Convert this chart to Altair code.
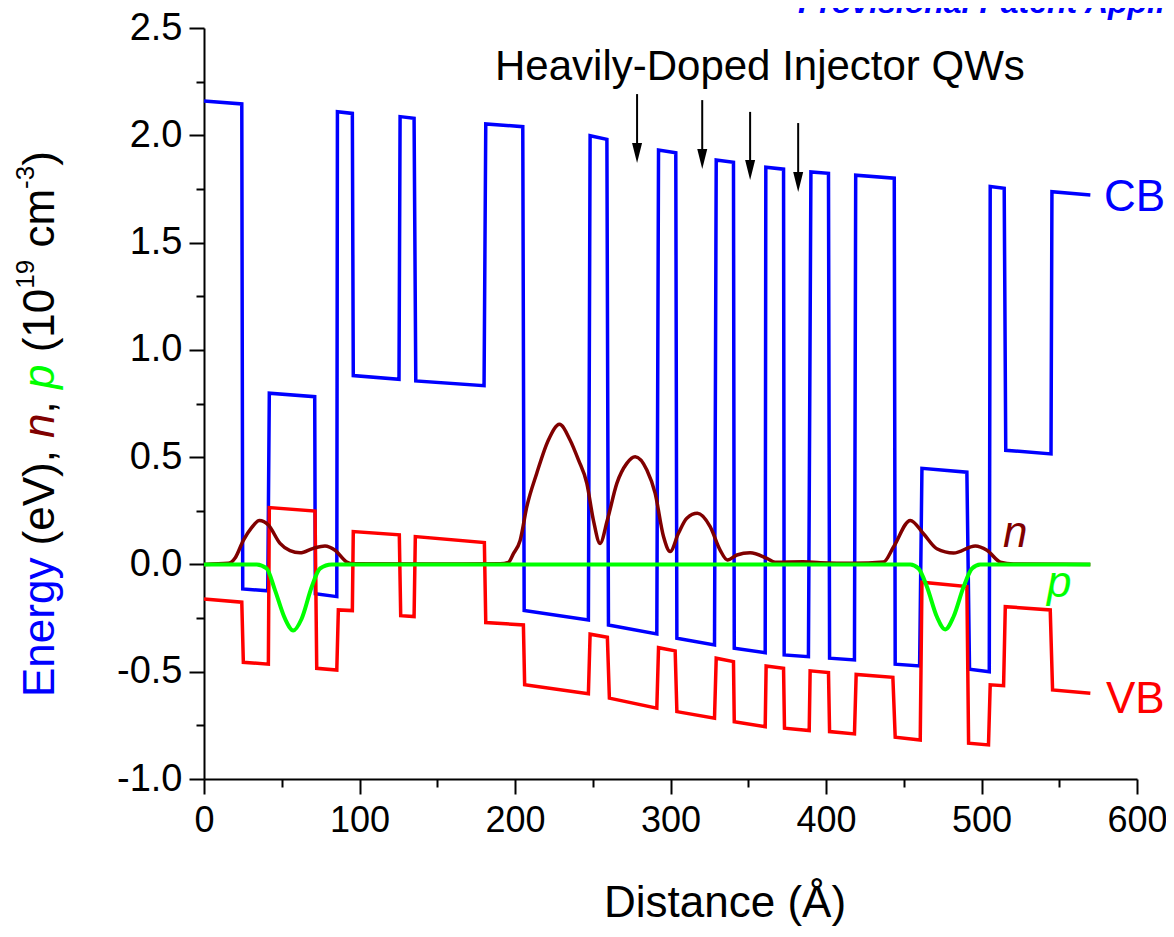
import altair as alt
import pandas as pd

FONT = "Liberation Sans, Arial, Helvetica, sans-serif"

# ---------------- data ----------------
cb_x = [0, 24.3, 24.9, 41.0, 42.0, 71.2, 71.6, 85.4, 85.8, 95.4, 96.0, 125.4, 126.1, 135.1, 136.2,
        180.1, 181.2, 205.0, 205.9, 247.2, 248.3, 259.1, 260.1, 291.2, 292.3, 303.4, 304.1, 328.3,
        329.4, 340.5, 341.0, 360.9, 361.3, 372.7, 373.1, 388.7, 390.3, 401.6, 402.3, 418.3, 419.1,
        443.9, 444.5, 460.2, 461.7, 490.6, 492.3, 505.0, 505.6, 514.6, 515.6, 544.7, 545.3, 570.0]
cb_y = [2.16, 2.146, -0.114, -0.123, 0.798, 0.782, -0.137, -0.150, 2.110, 2.102, 0.880, 0.863,
        2.087, 2.079, 0.855, 0.833, 2.053, 2.040, -0.215, -0.259, 1.998, 1.981, -0.282, -0.324,
        1.931, 1.919, -0.344, -0.375, 1.885, 1.874, -0.390, -0.411, 1.851, 1.842, -0.422, -0.430,
        1.829, 1.823, -0.437, -0.445, 1.814, 1.800, -0.465, -0.473, 0.448, 0.430, -0.488, -0.500,
        1.761, 1.753, 0.532, 0.515, 1.737, 1.722]

vb_x = [0, 24.3, 25.3, 41.4, 42.0, 71.4, 72.5, 85.4, 86.4, 95.4, 96.0, 125.6, 126.5, 135.1, 135.9,
        180.3, 181.2, 205.4, 206.2, 247.2, 248.3, 259.4, 260.7, 291.2, 292.3, 303.0, 304.1, 328.3,
        329.4, 340.5, 341.0, 360.9, 361.5, 372.7, 373.3, 389.2, 389.8, 401.6, 402.3, 418.3, 419.4,
        443.0, 444.5, 460.6, 461.7, 490.6, 491.7, 504.5, 505.6, 514.2, 515.3, 544.2, 545.7, 570.0]
vb_y = [-0.161, -0.176, -0.456, -0.465, 0.265, 0.249, -0.484, -0.492, -0.212, -0.215, 0.153, 0.138,
        -0.239, -0.243, 0.130, 0.102, -0.271, -0.282, -0.561, -0.603, -0.325, -0.339, -0.623, -0.670,
        -0.388, -0.403, -0.686, -0.717, -0.437, -0.453, -0.733, -0.756, -0.473, -0.484, -0.763, -0.774,
        -0.496, -0.504, -0.779, -0.790, -0.513, -0.526, -0.805, -0.818, -0.083, -0.103, -0.833, -0.841,
        -0.561, -0.565, -0.197, -0.212, -0.585, -0.600]

n_x = [0, 15.6, 20, 25.3, 30.5, 35.6, 41.4, 48.9, 55.3, 61.8, 70.3, 77.8, 84.3, 91.8, 96.0, 150,
       190.4, 195.8, 199.0, 203.3, 207.6, 214.0, 221.5, 228.6, 235.4, 240.8, 246.2, 250.4, 254.7,
       259.4, 265.5, 271.9, 277.3, 284.8, 290.1, 295.5, 299.8, 305.1, 310.5, 317.3, 325.5, 331.9,
       336.6, 342.7, 351.2, 362.0, 367.3, 385.3, 396.3, 417.5, 437.0, 443.4, 454.2, 462.7, 471.3,
       482.0, 496.0, 503.5, 512.1, 520.6, 570]
n_y = [0, 0.005, 0.03, 0.112, 0.17, 0.205, 0.184, 0.098, 0.064, 0.054, 0.075, 0.086, 0.066, 0.011,
       0.003, 0.002, 0.003, 0.01, 0.05, 0.112, 0.269, 0.425, 0.580, 0.653, 0.580, 0.487, 0.378,
       0.207, 0.098, 0.207, 0.378, 0.471, 0.502, 0.440, 0.332, 0.130, 0.060, 0.145, 0.215, 0.238,
       0.176, 0.067, 0.021, 0.044, 0.054, 0.028, 0.010, 0.012, 0.008, 0.005, 0.011, 0.081, 0.205,
       0.143, 0.073, 0.053, 0.086, 0.066, 0.011, 0.002, 0]

p_x = [0, 33.9, 40.3, 45.7, 52.1, 57.4, 62.8, 69.3, 74.6, 82.1, 454.2, 459.5, 464.9, 471.3, 476.7,
       482.0, 488.5, 493.9, 499.2, 570]
p_y = [0, 0, -0.019, -0.121, -0.253, -0.308, -0.253, -0.104, -0.019, 0, 0, -0.019, -0.104, -0.244,
       -0.303, -0.244, -0.104, -0.019, 0, 0]

arrow_x = [278.5, 320.4, 351.2, 382.1]
arrow_top = [2.192, 2.164, 2.109, 2.057]
arrow_tip = [1.871, 1.843, 1.792, 1.736]

x_major = [0, 100, 200, 300, 400, 500, 600]
x_minor = [50, 150, 250, 350, 450, 550]
y_major = [-1.0, -0.5, 0.0, 0.5, 1.0, 1.5, 2.0, 2.5]
y_minor = [-0.75, -0.25, 0.25, 0.75, 1.25, 1.75, 2.25]

# ---------------- scales / axes ----------------
xs = alt.Scale(domain=[0, 600], nice=False, zero=False)
ys = alt.Scale(domain=[-1.0, 2.5], nice=False, zero=False)

x_axis_major = alt.Axis(
    values=x_major, orient="bottom", title=None, grid=False, format="d",
    tickSize=15, labelPadding=9, labelOverlap=False, labelFlush=False, labelFontSize=36,
)
y_axis_major = alt.Axis(
    values=y_major, orient="left", title=None, grid=False,
    labelExpr="(datum.value < 0 ? '-' : '') + format(abs(datum.value), '.1f')",
    tickSize=15, labelPadding=7, labelOverlap=False, labelFlush=False, labelFontSize=38,
)
x_axis_minor = alt.Axis(values=x_minor, orient="bottom", title=None, grid=False,
                        tickSize=8, labels=False, domain=False)
y_axis_minor = alt.Axis(values=y_minor, orient="left", title=None, grid=False,
                        tickSize=8, labels=False, domain=False)


def line(xv, yv, color, width=3.5, interp="linear", xaxis=None, yaxis=None, opacity=1):
    df = pd.DataFrame({"x": xv, "y": yv, "o": range(len(xv))})
    return alt.Chart(df).mark_line(color=color, strokeWidth=width, interpolate=interp,
                                   opacity=opacity).encode(
        x=alt.X("x:Q", scale=xs, axis=xaxis),
        y=alt.Y("y:Q", scale=ys, axis=yaxis),
        order="o:Q",
    )


minor = line(cb_x, cb_y, "#0000FF", xaxis=x_axis_minor, yaxis=y_axis_minor, opacity=0)
cb = line(cb_x, cb_y, "#0000FF", xaxis=x_axis_major, yaxis=y_axis_major)
vb = line(vb_x, vb_y, "#FF0000")
n_line = line(n_x, n_y, "#800000", interp="monotone")
p_line = line(p_x, p_y, "#00FF00", width=4, interp="monotone")

adf = pd.DataFrame({"x": arrow_x, "top": arrow_top, "tip": arrow_tip})
shafts = alt.Chart(adf).mark_rule(color="black", strokeWidth=2, y2Offset=-10).encode(
    x=alt.X("x:Q", scale=xs, axis=None),
    y=alt.Y("top:Q", scale=ys, axis=None),
    y2="tip:Q",
)
heads = alt.Chart(adf).mark_point(
    shape="M-0.25,-1L0.25,-1L0,0Z", size=1600, filled=True, color="black", opacity=1, strokeWidth=0
).encode(
    x=alt.X("x:Q", scale=xs, axis=None),
    y=alt.Y("tip:Q", scale=ys, axis=None),
)

dummy = pd.DataFrame({"a": [0]})


def txt(s, x, y, size=44, color="black", style="normal", weight="normal", angle=0,
        align="left", baseline="alphabetic"):
    return alt.Chart(dummy).mark_text(
        text=s, font=FONT, fontSize=size, color=color, fontStyle=style, fontWeight=weight,
        angle=angle, align=align, baseline=baseline,
    ).encode(x=alt.value(x), y=alt.value(y))


texts = [
    txt("CB", 900, 183, color="#0000FF"),
    txt("VB", 902, 685, color="#FF0000"),
    txt("n", 799, 519, color="#800000", style="italic"),
    txt("p", 843, 569, color="#00FF00", style="italic"),
    txt("Heavily-Doped Injector QWs", 291, 52, size=42),
    txt("Distance (Å)", 521, 889, align="center"),
    txt("Provisional Patent Application", 594, -15, size=32, color="#0000FF",
        style="italic", weight="bold"),
]

# rotated y-axis title, composed of coloured pieces
YX = -150
YXS = -170
ytitle = [
    txt("Energy", YX, 669, color="#0000FF", angle=270),
    txt("(eV),", YX, 517.4, angle=270),
    txt("n", YX, 409.9, color="#800000", style="italic", angle=270),
    txt(",", YX, 385.4, angle=270),
    txt("p", YX, 361.0, color="#00FF00", style="italic", angle=270),
    txt("(10", YX, 324.3, angle=270),
    txt("19", YXS, 260.7, size=26, angle=270),
    txt("cm", YX, 219.6, angle=270),
    txt("-3", YXS, 160.9, size=26, angle=270),
    txt(")", YX, 137.8, angle=270),
]

chart = alt.layer(minor, cb, vb, n_line, p_line, shafts, heads, *texts, *ytitle).resolve_axis(
    x="independent", y="independent"
).properties(
    width=933, height=751,
    autosize=alt.AutoSizeParams(type="none"),
    padding={"left": 196, "top": 20, "right": 29, "bottom": 148},
).configure_view(stroke=None).configure_axis(
    domainColor="black", domainWidth=2, tickColor="black", tickWidth=2,
    labelFont=FONT, labelFontSize=38, labelColor="black",
)

chart.save("out.html", embed_options={"renderer": "svg", "actions": False})
